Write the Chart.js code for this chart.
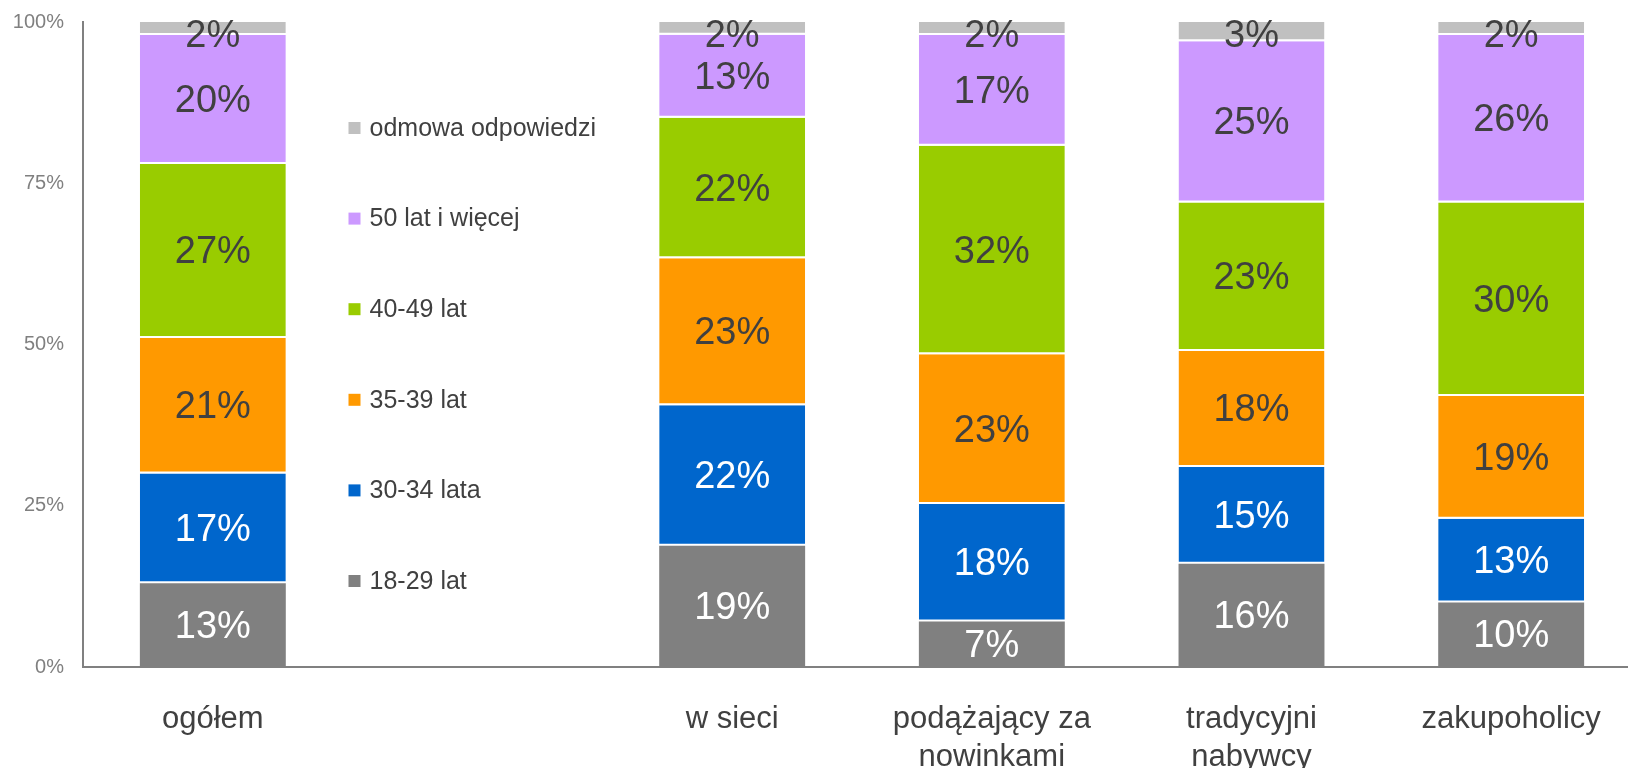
<!DOCTYPE html>
<html lang="pl">
<head>
<meta charset="utf-8">
<title>Struktura wieku w segmentach nabywców</title>
<script src="https://cdn.jsdelivr.net/npm/chart.js@4/dist/chart.umd.min.js"></script>
<style>
  html, body { margin: 0; padding: 0; background: #ffffff; overflow: hidden; }
  #wrap { width: 1641px; height: 768px; }
</style>
</head>
<body>
<div id="wrap"><canvas id="chart" width="1641" height="768"></canvas></div>
<script>
// Segments of buyers; the second slot is left free for the legend.
const categories = ['ogółem', '', 'w sieci', ['podążający za', 'nowinkami'], ['tradycyjni', 'nabywcy'], 'zakupoholicy'];

// Age groups, bottom to top of each bar (percent of respondents).
const seriesNames = ['18-29 lat', '30-34 lata', '35-39 lat', '40-49 lat', '50 lat i więcej', 'odmowa odpowiedzi'];
const age18to29  = [13, null, 19, 7, 16, 10];
const age30to34  = [17, null, 22, 18, 15, 13];
const age35to39  = [21, null, 23, 23, 18, 19];
const age40to49  = [27, null, 22, 32, 23, 30];
const age50plus  = [20, null, 13, 17, 25, 26];
const noAnswer   = [2, null, 2, 2, 3, 2];

const yTicks = [0, 25, 50, 75, 100];

const seriesValues = [age18to29, age30to34, age35to39, age40to49, age50plus, noAnswer];
const seriesColors = ['#808080', '#0066CC', '#FF9900', '#99CC00', '#CC99FF', '#C0C0C0'];
const labelColors  = ['#FFFFFF', '#FFFFFF', '#404040', '#404040', '#404040', '#404040'];

const FONT = '"Liberation Sans", Arial, Helvetica, sans-serif';

// 100% stacking: each bar is scaled to the total of its category.
const totals = categories.map((_, i) =>
  seriesValues.reduce((s, arr) => s + (arr[i] == null ? 0 : arr[i]), 0));

const datasets = seriesValues.map((vals, k) => ({
  label: seriesNames[k],
  data: vals.map((v, i) => (v == null ? null : v / totals[i] * 100)),
  rawValues: vals,
  backgroundColor: seriesColors[k],
  borderColor: '#FFFFFF',
  borderWidth: k === 0 ? 0 : { top: 0, left: 0, right: 0, bottom: 2 },
  borderSkipped: false,
  barPercentage: 0.562,
  categoryPercentage: 1.0,
  labelColor: labelColors[k]
}));

// Percent labels in the middle of each segment.
const segmentLabels = {
  id: 'segmentLabels',
  afterDatasetsDraw(chart) {
    const ctx = chart.ctx;
    const area = chart.chartArea;
    const size = 38;
    ctx.save();
    ctx.font = size + 'px ' + FONT;
    ctx.textAlign = 'center';
    ctx.textBaseline = 'middle';
    chart.data.datasets.forEach((ds, di) => {
      const meta = chart.getDatasetMeta(di);
      meta.data.forEach((bar, i) => {
        const raw = ds.rawValues[i];
        if (raw == null) return;
        let y = (bar.y + bar.base) / 2;
        y = Math.max(y, area.top + size * 0.34);
        ctx.fillStyle = ds.labelColor;
        ctx.fillText(raw + '%', bar.x, y + 2);
      });
    });
    ctx.restore();
  }
};

// Legend set in the free category slot, top entry first.
const slotLegend = {
  id: 'slotLegend',
  afterDatasetsDraw(chart) {
    const ctx = chart.ctx;
    const area = chart.chartArea;
    const xScale = chart.scales.x;
    const left = xScale.getPixelForValue(1) - 124;
    const firstY = area.top + 106;
    const step = 90.6;
    ctx.save();
    ctx.font = '25px ' + FONT;
    ctx.textAlign = 'left';
    ctx.textBaseline = 'middle';
    const ds = chart.data.datasets;
    for (let n = 0; n < ds.length; n++) {
      const item = ds[ds.length - 1 - n];
      const y = firstY + n * step;
      ctx.fillStyle = item.backgroundColor;
      ctx.fillRect(left, y - 6, 12, 12);
      ctx.fillStyle = '#404040';
      ctx.fillText(item.label, left + 21, y + 1);
    }
    ctx.restore();
  }
};

new Chart(document.getElementById('chart'), {
  type: 'bar',
  data: { labels: categories, datasets: datasets },
  options: {
    responsive: false,
    animation: false,
    devicePixelRatio: 1,
    layout: { padding: { top: 22, left: 0, right: 0, bottom: 0 } },
    plugins: {
      legend: { display: false },
      tooltip: { enabled: false },
      title: { display: false }
    },
    scales: {
      x: {
        stacked: true,
        grid: { display: false, drawTicks: false },
        border: { display: true, color: '#808080', width: 2 },
        ticks: {
          color: '#404040',
          font: { family: FONT, size: 31, lineHeight: 1.24 },
          padding: 33,
          maxRotation: 0,
          autoSkip: false
        },
        afterFit(scale) {
          scale.height = 101;
          scale.paddingLeft = 0;
          scale.paddingRight = 0;
        }
      },
      y: {
        stacked: true,
        min: 0,
        max: 100,
        afterBuildTicks(scale) { scale.ticks = yTicks.map(v => ({ value: v })); },
        grid: { display: false, drawTicks: false },
        border: { display: true, color: '#808080', width: 2 },
        ticks: {
          color: '#808080',
          font: { family: FONT, size: 20 },
          padding: 19,
          callback: v => v + '%'
        },
        afterFit(scale) {
          scale.width = 83;
          scale.paddingTop = 0;
          scale.paddingBottom = 0;
        }
      }
    }
  },
  plugins: [segmentLabels, slotLegend]
});
</script>
</body>
</html>
